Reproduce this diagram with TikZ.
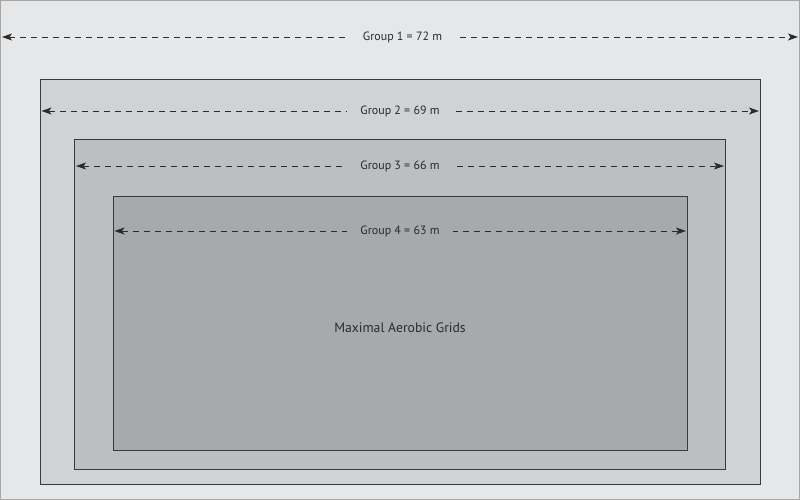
\documentclass[tikz,border=0pt]{standalone}
\usepackage{fontspec}
\setmainfont{PT Sans}
\usetikzlibrary{arrows.meta}
\definecolor{cA}{HTML}{E6E7E8}
\definecolor{cB}{HTML}{D1D2D4}
\definecolor{cC}{HTML}{BCBEC0}
\definecolor{cD}{HTML}{A7A9AC}
\definecolor{edge}{HTML}{3A3A3A}
\definecolor{txt}{HTML}{2B2B2B}
\tikzset{
  box/.style={draw=edge, line width=1pt, anchor=north west, inner sep=0pt, outer sep=0pt},
  dim/.style={draw=txt, line width=0.9pt, dash pattern=on 6pt off 5pt, {Stealth[length=10pt,width=7pt,inset=2.5pt]}-{Stealth[length=10pt,width=7pt,inset=2.5pt]}},
  lbl/.style={font=\fontsize{12}{14}\selectfont, text=txt, inner xsep=13pt, inner ysep=2pt},
}
\begin{document}
\begin{tikzpicture}[x=1pt,y=-1pt]
\useasboundingbox (0,0) rectangle (800,500);
\node[box, draw=gray!70, fill=cA, minimum width=799pt, minimum height=499pt] (r1) at (0.5,0.5) {};
\node[box, fill=cB, minimum width=720pt, minimum height=404.5pt] (r2) at (40,80) {};
\node[box, fill=cC, minimum width=650.5pt, minimum height=329.5pt] (r3) at (74.5,139.5) {};
\node[box, fill=cD, minimum width=574pt, minimum height=254pt] (r4) at (113,196) {};
\coordinate (a1) at (2,37); \coordinate (b1) at (798,37);
\coordinate (a2) at (41.5,111); \coordinate (b2) at (759,111);
\coordinate (a3) at (76,166); \coordinate (b3) at (724,166);
\coordinate (a4) at (114.5,231); \coordinate (b4) at (686,231);
\draw[dim] (a1) -- (b1);
\draw[dim] (a2) -- (b2);
\draw[dim] (a3) -- (b3);
\draw[dim] (a4) -- (b4);
\node[lbl, fill=cA] (l1) at (402.5,37) {Group 1 = 72 m};
\node[lbl, fill=cB] (l2) at (400,111) {Group 2 = 69 m};
\node[lbl, fill=cC] (l3) at (400,166) {Group 3 = 66 m};
\node[lbl, fill=cD] (l4) at (400,231) {Group 4 = 63 m};
\node[font=\fontsize{13.7}{16}\selectfont, text=txt] (m) at (400,328) {Maximal Aerobic Grids};
\end{tikzpicture}
\end{document}
